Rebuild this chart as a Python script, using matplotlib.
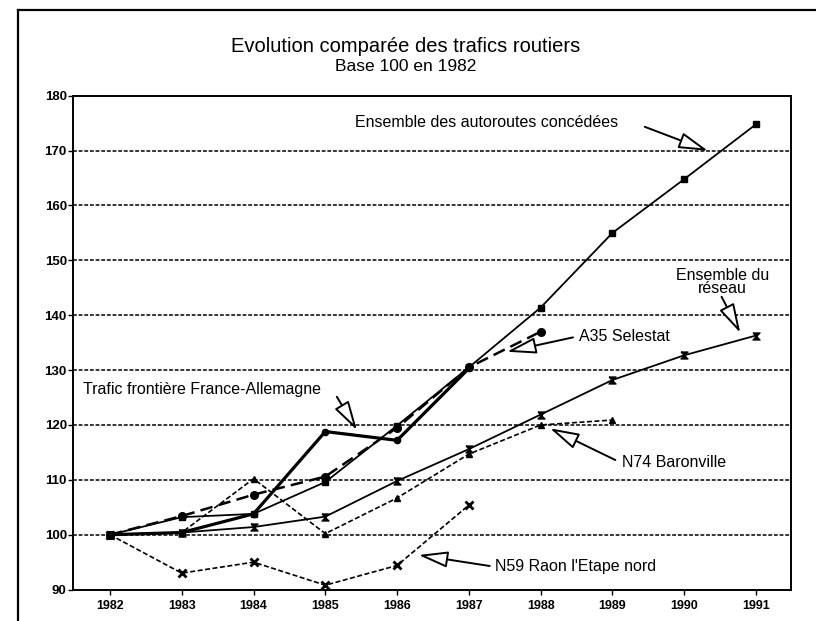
import matplotlib
matplotlib.use("Agg")
import matplotlib.pyplot as plt
from matplotlib.lines import Line2D

plt.rcParams['font.family'] = ['Liberation Sans', 'DejaVu Sans']

# ---- data ----
years = [1982, 1983, 1984, 1985, 1986, 1987, 1988, 1989, 1990, 1991]
autoroutes = [100, 103.2, 103.8, 109.6, 119.9, 130.5, 141.4, 155.0, 164.8, 174.8]
reseau = [100, 100.4, 101.4, 103.3, 109.8, 115.6, 121.9, 128.2, 132.7, 136.3]
n74 = [100, 100.4, 110.2, 100.2, 106.7, 114.7, 120.0, 120.9]
a35 = [100, 103.4, 107.3, 110.6, 119.5, 130.5, 137.0]
frontiere = [100, 100.4, 103.8, 118.8, 117.2, 130.3]
n59 = [100, 93.0, 95.0, 90.8, 94.4, 105.4]
yticks = [90, 100, 110, 120, 130, 140, 150, 160, 170, 180]

title = "Evolution comparée des trafics routiers"
subtitle = "Base 100 en 1982"

W, H = 816, 621
fig = plt.figure(figsize=(W / 100, H / 100), dpi=100)
ax = fig.add_axes([73 / W, 1 - 589.6 / H, (790.5 - 73) / W, (589.6 - 95.7) / H])

# gridlines
for v in yticks[1:-1]:
    ax.axhline(v, color='black', lw=1.1, ls=(0, (2.5, 1.2)), zorder=1)

bowtie = [(-1, 1), (1, 1), (-1, -1), (1, -1), (-1, 1)]

ax.plot(years[:len(n59)], n59, color='black', lw=1.2, ls=(0, (3, 1.5)),
        marker='x', ms=6, mew=2, zorder=3)
ax.plot(years[:len(n74)], n74, color='black', lw=1.2, ls=(0, (3, 1.5)),
        marker='^', ms=4, zorder=3)
ax.plot(years, reseau, color='black', lw=1.3, marker=bowtie, ms=5, mew=1, zorder=3)
ax.plot(years[:len(a35)], a35, color='black', lw=1.8, ls=(0, (5, 2.5)),
        marker='o', ms=5.5, zorder=3)
ax.plot(years, autoroutes, color='black', lw=1.3, marker='s', ms=4.5, zorder=4)
ax.plot(years[:len(frontiere)], frontiere, color='black', lw=2.3,
        marker='o', ms=4.5, zorder=4)

ax.set_xlim(1981.485, 1991.48)
ax.set_ylim(90, 180)
ax.set_xticks(years)
ax.set_xticklabels([str(y) for y in years], fontweight='bold', fontsize=9)
ax.set_yticks(yticks)
ax.set_yticklabels([str(v) for v in yticks], fontweight='bold', fontsize=9.5)
ax.tick_params(axis='y', direction='out', length=3.5, width=1, pad=1)
ax.tick_params(axis='x', direction='out', length=3.5, width=1, pad=4)
for s in ax.spines.values():
    s.set_linewidth(1.4)

# annotations
arrow = dict(arrowstyle='-|>,head_length=0.9,head_width=0.25', mutation_scale=20,
             fc='white', ec='black', lw=1.4, shrinkA=0, shrinkB=0)
fs = 11.5


def label(text, tail, tip, pos, ha='center'):
    ax.annotate('', xy=tip, xytext=tail, arrowprops=arrow, zorder=6)
    ax.text(pos[0], pos[1], text, ha=ha, va='center', fontsize=fs, zorder=6)


label("Ensemble des autoroutes concédées", (1989.45, 174.33), (1990.33, 169.96),
      (1987.24, 175.2))
ax.text(1990.53, 147.3, "Ensemble du", ha='center', va='center', fontsize=fs)
label("réseau", (1990.52, 143.36), (1990.78, 136.8), (1990.53, 144.8))
label("A35 Selestat", (1988.45, 135.96), (1987.53, 133.34), (1989.17, 136.2))
label("Trafic frontière France-Allemagne", (1985.16, 125.14), (1985.44, 119.08),
      (1983.28, 126.4))
label("N74 Baronville", (1989.04, 113.61), (1988.13, 119.39), (1989.86, 113.25))
label("N59 Raon l'Etape nord", (1987.29, 94.3), (1986.3, 96.3), (1987.36, 94.12),
      ha='left')

# titles
fig.text(406 / W, 1 - 51.7 / H, title, ha='center', va='baseline', fontsize=14.5)
fig.text(406 / W, 1 - 70.7 / H, subtitle, ha='center', va='baseline', fontsize=12.5)

# outer frame (only top and left visible)
fig.add_artist(Line2D([18 / W, 1], [1 - 10 / H, 1 - 10 / H], color='black', lw=1.6))
fig.add_artist(Line2D([18 / W, 18 / W], [0, 1 - 10 / H], color='black', lw=1.6))

fig.savefig("out.png", dpi=100)
